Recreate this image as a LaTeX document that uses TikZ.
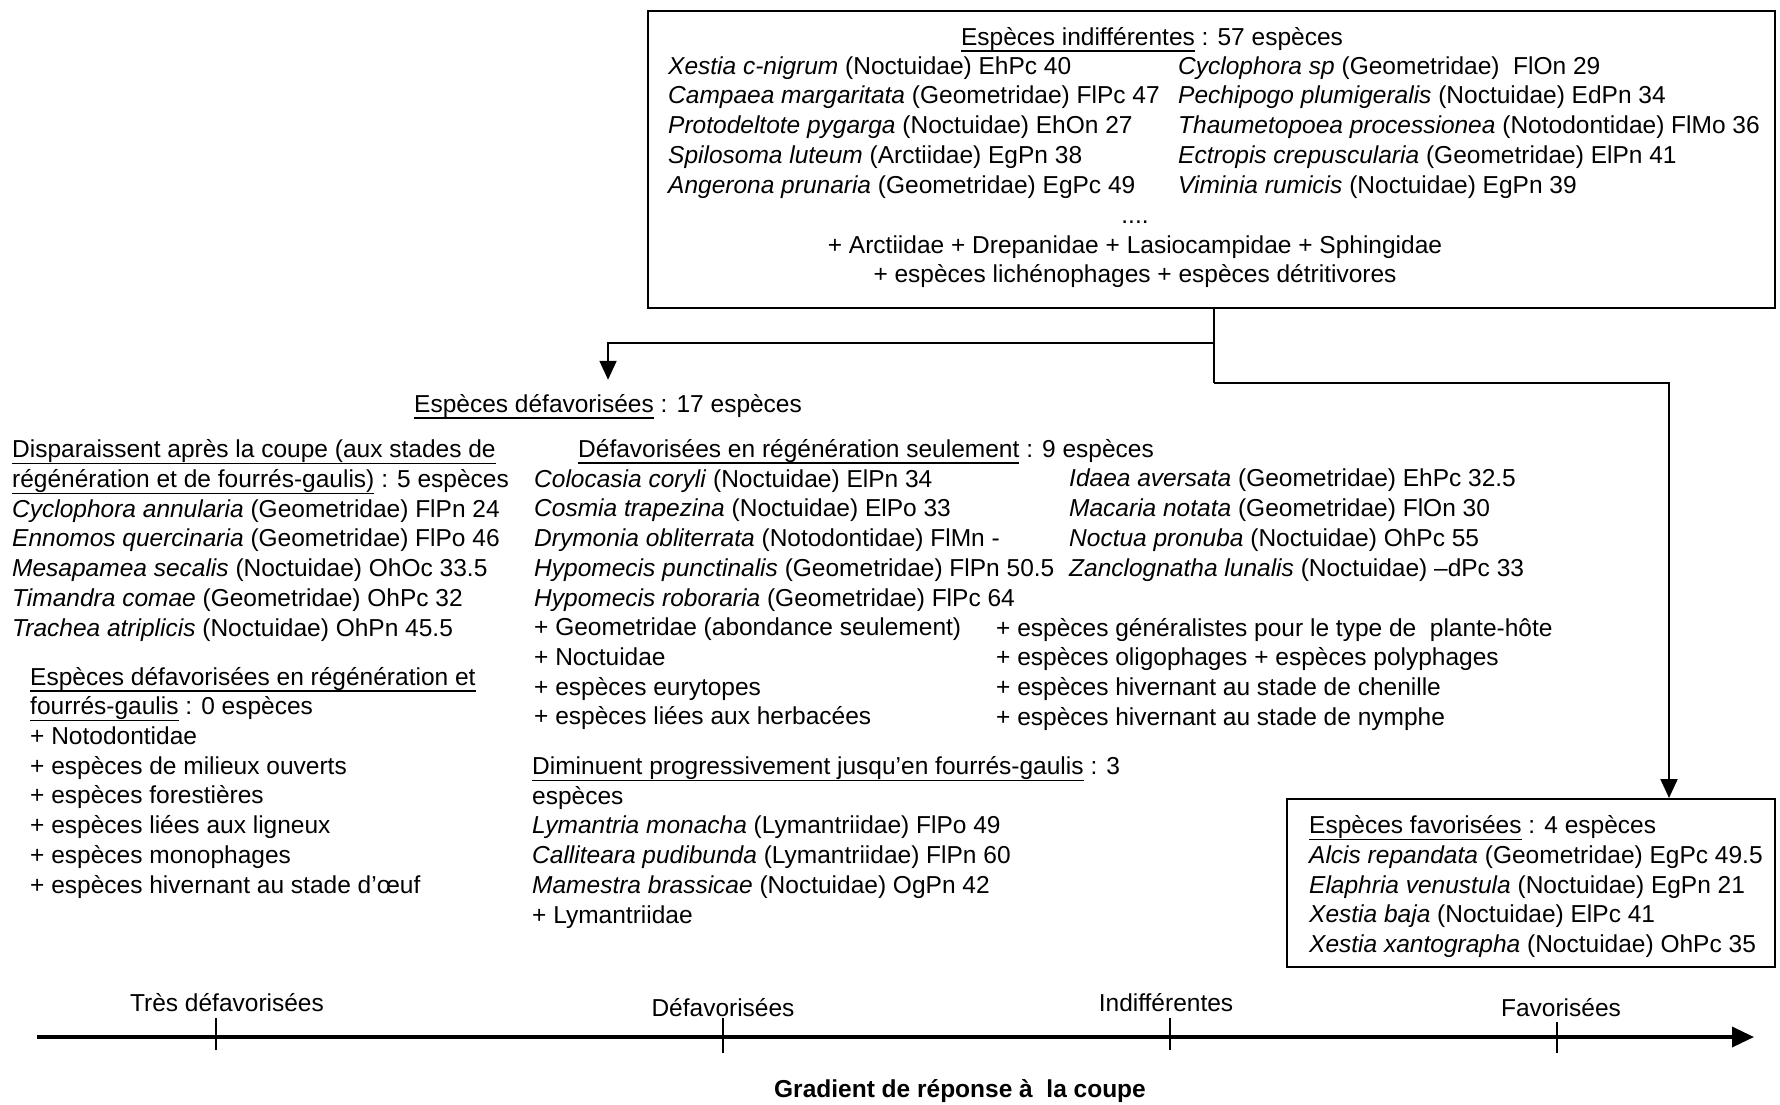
\documentclass[tikz,border=0pt]{standalone}
\usepackage{fontspec}
\setmainfont{Liberation Sans}
\usetikzlibrary{arrows.meta,calc}
\newsavebox\undlbox
\newcommand\undl[1]{\sbox\undlbox{#1}\rlap{\rule[-6.5pt]{\wd\undlbox}{1.5pt}}\usebox\undlbox}
\newcommand\fsz{\fontsize{24.5}{29.7}\selectfont}
\tikzset{
  txt/.style={anchor=base west, inner sep=0pt, align=left, font=\fsz},
  ctxt/.style={anchor=base, inner sep=0pt, align=center, font=\fsz},
  box/.style={draw, line width=2pt, rectangle, inner sep=0pt},
  conn/.style={line width=2pt, -{Triangle[length=19pt,width=17pt]}},
  plainline/.style={line width=2pt},
  axisline/.style={line width=3.5pt, -{Triangle[length=22pt,width=20pt]}},
  tick/.style={line width=1.2pt}
}
\begin{document}
\begin{tikzpicture}[x=1pt,y=-1pt]
\useasboundingbox (0,0) rectangle (1780,1104);
% note: multi-line nodes are placed by the baseline of their last line

% ---------- top box: indifferent species
\node[box, minimum width=1127pt, minimum height=297pt] (indiff) at (1211.5,159.5) {};
\node[ctxt] (indiffT) at (1152,45) {\undl{Espèces indifférentes} : 57 espèces};
\node[txt] (indiffL) at (668,193) {%
\textit{Xestia c-nigrum} (Noctuidae) EhPc 40\\
\textit{Campaea margaritata} (Geometridae) FlPc 47\\
\textit{Protodeltote pygarga} (Noctuidae) EhOn 27\\
\textit{Spilosoma luteum} (Arctiidae) EgPn 38\\
\textit{Angerona prunaria} (Geometridae) EgPc 49};
\node[txt] (indiffR) at (1178,193) {%
\textit{Cyclophora sp} (Geometridae)\ \ FlOn 29\\
\textit{Pechipogo plumigeralis} (Noctuidae) EdPn 34\\
\textit{Thaumetopoea processionea} (Notodontidae) FlMo 36\\
\textit{Ectropis crepuscularia} (Geometridae) ElPn 41\\
\textit{Viminia rumicis} (Noctuidae) EgPn 39};
\node[ctxt] (indiffB) at (1135,282.9) {....\\
+ Arctiidae + Drepanidae + Lasiocampidae + Sphingidae\\
+ espèces lichénophages + espèces détritivores};

% ---------- défavorisées
\node[txt] (defav) at (414,412) {\undl{Espèces défavorisées} : 17 espèces};

\node[txt] (disp) at (12,636) {%
\undl{Disparaissent après la coupe (aux stades de}\\
\undl{régénération et de fourrés-gaulis)} : 5 espèces\\
\textit{Cyclophora annularia} (Geometridae) FlPn 24\\
\textit{Ennomos quercinaria} (Geometridae) FlPo 46\\
\textit{Mesapamea secalis} (Noctuidae) OhOc 33.5\\
\textit{Timandra comae} (Geometridae) OhPc 32\\
\textit{Trachea atriplicis} (Noctuidae) OhPn 45.5};

\node[txt] (regfg) at (30,893) {%
\undl{Espèces défavorisées en régénération et}\\
\undl{fourrés-gaulis} : 0 espèces\\
+ Notodontidae\\
+ espèces de milieux ouverts\\
+ espèces forestières\\
+ espèces liées aux ligneux\\
+ espèces monophages\\
+ espèces hivernant au stade d’œuf};

\node[txt] (regT) at (578,457) {\undl{Défavorisées en régénération seulement} : 9 espèces};
\node[txt] (regL) at (534,724.8) {%
\textit{Colocasia coryli} (Noctuidae) ElPn 34\\
\textit{Cosmia trapezina} (Noctuidae) ElPo 33\\
\textit{Drymonia obliterrata} (Notodontidae) FlMn -\\
\textit{Hypomecis punctinalis} (Geometridae) FlPn 50.5\\
\textit{Hypomecis roboraria} (Geometridae) FlPc 64\\
+ Geometridae (abondance seulement)\\
+ Noctuidae\\
+ espèces eurytopes\\
+ espèces liées aux herbacées};
\node[txt] (regR) at (1069,576) {%
\textit{Idaea aversata} (Geometridae) EhPc 32.5\\
\textit{Macaria notata} (Geometridae) FlOn 30\\
\textit{Noctua pronuba} (Noctuidae) OhPc 55\\
\textit{Zanclognatha lunalis} (Noctuidae) –dPc 33};
\node[txt] (regP) at (996,725.3) {%
+ espèces généralistes pour le type de\ \ plante-hôte\\
+ espèces oligophages + espèces polyphages\\
+ espèces hivernant au stade de chenille\\
+ espèces hivernant au stade de nymphe};

\node[txt] (dimin) at (532,923) {%
\undl{Diminuent progressivement jusqu’en fourrés-gaulis} : 3\\
espèces\\
\textit{Lymantria monacha} (Lymantriidae) FlPo 49\\
\textit{Calliteara pudibunda} (Lymantriidae) FlPn 60\\
\textit{Mamestra brassicae} (Noctuidae) OgPn 42\\
+ Lymantriidae};

% ---------- favorisées box
\node[box, minimum width=488pt, minimum height=168pt] (fav) at (1531,883) {};
\node[txt] (favT) at (1309,952.6) {%
\undl{Espèces favorisées} : 4 espèces\\
\textit{Alcis repandata} (Geometridae) EgPc 49.5\\
\textit{Elaphria venustula} (Noctuidae) EgPn 21\\
\textit{Xestia baja} (Noctuidae) ElPc 41\\
\textit{Xestia xantographa} (Noctuidae) OhPc 35};

% ---------- connectors
\coordinate (jl) at (1214,343);
\coordinate (jr) at (1214,383);
\draw[plainline] (indiff.south -| jr) -- (jr);
\draw[conn, shorten >=14pt] (jl) -| (defav.north);
\draw[conn] (jr) -| ([xshift=138pt]fav.north);

% ---------- axis
\coordinate (ax0) at (37,1037);
\coordinate (ax1) at (1754,1037);
\draw[axisline] (ax0) -- (ax1);
\draw[tick] (216,1018) -- (216,1050);
\draw[tick] (723,1018) -- (723,1053);
\draw[tick] (1170,1018) -- (1170,1050);
\draw[tick] (1557,1022) -- (1557,1053);
\node[ctxt] (lab1) at (227,1011) {Très défavorisées};
\node[ctxt] (lab2) at (723,1016) {Défavorisées};
\node[ctxt] (lab3) at (1166,1011) {Indifférentes};
\node[ctxt] (lab4) at (1561,1016) {Favorisées};
\node[ctxt, font=\fsz\bfseries] (grad) at (960,1097) {Gradient de réponse à\ \ la coupe};
\end{tikzpicture}
\end{document}
